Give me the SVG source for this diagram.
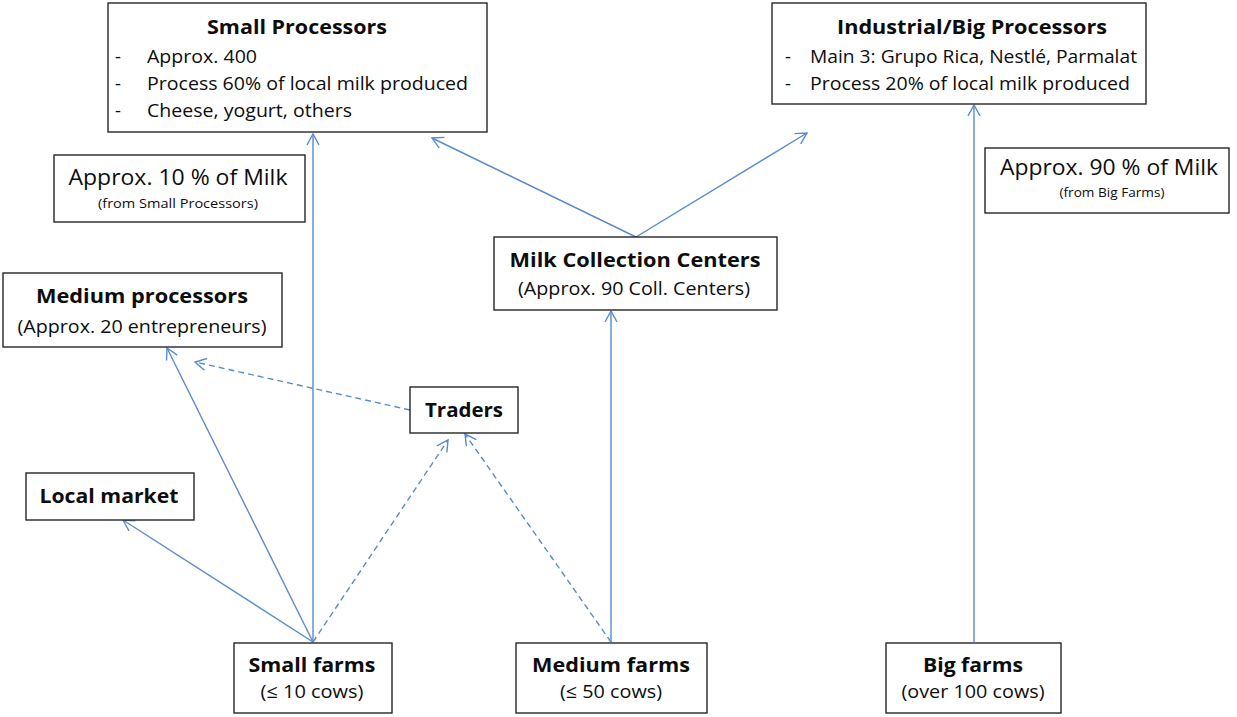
<svg xmlns="http://www.w3.org/2000/svg" width="1237" height="717" viewBox="0 0 1237 717">
<style>
.box{fill:#fff;stroke:#262626;stroke-width:1.4}
.t{font-family:"Open Sans","Liberation Sans",sans-serif;fill:#0d0d0d}
.b{font-weight:bold;font-size:19px}
.n{font-size:18.5px}
.big{font-size:22px}
.sm{font-size:12.5px}
.c{stroke:#5B8BCB;stroke-width:1.4;fill:none}
.d{stroke-dasharray:6 4}
</style>
<defs>
<marker id="ah" markerUnits="userSpaceOnUse" markerWidth="16" markerHeight="16" viewBox="-12 -8 14 16" refX="0" refY="0" orient="auto">
<path d="M-11,-6 L0,0 L-11,6" fill="none" stroke="#5B8BCB" stroke-width="1.4"/>
</marker>
</defs>
<rect width="1237" height="717" fill="#fff"/>
<g id="connectors">
<line class="c" x1="313" y1="642" x2="123" y2="520" marker-end="url(#ah)"/>
<line class="c" x1="313" y1="642" x2="167" y2="348" marker-end="url(#ah)"/>
<line class="c" x1="313" y1="642" x2="313" y2="134" marker-end="url(#ah)"/>
<line class="c d" x1="313" y1="642" x2="448" y2="440" marker-end="url(#ah)"/>
<line class="c d" x1="611" y1="642" x2="465" y2="434" marker-end="url(#ah)"/>
<line class="c" x1="611" y1="642" x2="611" y2="311" marker-end="url(#ah)"/>
<line class="c d" x1="410" y1="410" x2="195" y2="362" marker-end="url(#ah)"/>
<line class="c" x1="636" y1="237" x2="432" y2="138" marker-end="url(#ah)"/>
<line class="c" x1="636" y1="237" x2="807" y2="133" marker-end="url(#ah)"/>
<line class="c" x1="974" y1="642" x2="974" y2="105" marker-end="url(#ah)"/>
</g>
<g id="small-processors">
<rect class="box" x="108" y="3" width="379" height="129"/>
<text class="t b" x="297" y="34" text-anchor="middle" textLength="180" lengthAdjust="spacingAndGlyphs">Small Processors</text>
<text class="t n" x="115" y="63">-</text>
<text class="t n" x="147" y="63" textLength="110" lengthAdjust="spacingAndGlyphs">Approx. 400</text>
<text class="t n" x="115" y="90">-</text>
<text class="t n" x="147" y="90" textLength="321" lengthAdjust="spacingAndGlyphs">Process 60% of local milk produced</text>
<text class="t n" x="115" y="117">-</text>
<text class="t n" x="147" y="117" textLength="205" lengthAdjust="spacingAndGlyphs">Cheese, yogurt, others</text>
</g>
<g id="industrial-processors">
<rect class="box" x="772" y="3" width="374" height="101"/>
<text class="t b" x="972" y="34" text-anchor="middle" textLength="270" lengthAdjust="spacingAndGlyphs">Industrial/Big Processors</text>
<text class="t n" x="785" y="63">-</text>
<text class="t n" x="810" y="63" textLength="327" lengthAdjust="spacingAndGlyphs">Main 3: Grupo Rica, Nestlé, Parmalat</text>
<text class="t n" x="785" y="90">-</text>
<text class="t n" x="810" y="90" textLength="320" lengthAdjust="spacingAndGlyphs">Process 20% of local milk produced</text>
</g>
<g id="note-10">
<rect class="box" x="54" y="155" width="251" height="67"/>
<text class="t big" x="178" y="185" text-anchor="middle" textLength="219" lengthAdjust="spacingAndGlyphs">Approx. 10 % of Milk</text>
<text class="t sm" x="178" y="208" text-anchor="middle" textLength="160" lengthAdjust="spacingAndGlyphs">(from Small Processors)</text>
</g>
<g id="note-90">
<rect class="box" x="985" y="148" width="244" height="65"/>
<text class="t big" x="1109" y="175" text-anchor="middle" textLength="218" lengthAdjust="spacingAndGlyphs">Approx. 90 % of Milk</text>
<text class="t sm" x="1112" y="197" text-anchor="middle" textLength="105" lengthAdjust="spacingAndGlyphs">(from Big Farms)</text>
</g>
<g id="medium-processors">
<rect class="box" x="3" y="273" width="279" height="74"/>
<text class="t b" x="142" y="303" text-anchor="middle" textLength="212" lengthAdjust="spacingAndGlyphs">Medium processors</text>
<text class="t n" x="142" y="333" text-anchor="middle" textLength="249" lengthAdjust="spacingAndGlyphs">(Approx. 20 entrepreneurs)</text>
</g>
<g id="milk-collection-centers">
<rect class="box" x="494" y="237" width="283" height="73"/>
<text class="t b" x="635" y="267" text-anchor="middle" textLength="251" lengthAdjust="spacingAndGlyphs">Milk Collection Centers</text>
<text class="t n" x="634" y="295" text-anchor="middle" textLength="232" lengthAdjust="spacingAndGlyphs">(Approx. 90 Coll. Centers)</text>
</g>
<g id="traders">
<rect class="box" x="410" y="387" width="108" height="46"/>
<text class="t b" x="464" y="417" text-anchor="middle" textLength="78" lengthAdjust="spacingAndGlyphs">Traders</text>
</g>
<g id="local-market">
<rect class="box" x="26" y="473" width="168" height="47"/>
<text class="t b" x="109" y="503" text-anchor="middle" textLength="139" lengthAdjust="spacingAndGlyphs">Local market</text>
</g>
<g id="small-farms">
<rect class="box" x="234" y="643" width="158" height="70"/>
<text class="t b" x="312" y="672" text-anchor="middle" textLength="127" lengthAdjust="spacingAndGlyphs">Small farms</text>
<text class="t n" x="312" y="698" text-anchor="middle" textLength="103" lengthAdjust="spacingAndGlyphs">(≤ 10 cows)</text>
</g>
<g id="medium-farms">
<rect class="box" x="516" y="643" width="191" height="70"/>
<text class="t b" x="611" y="672" text-anchor="middle" textLength="158" lengthAdjust="spacingAndGlyphs">Medium farms</text>
<text class="t n" x="611" y="698" text-anchor="middle" textLength="102" lengthAdjust="spacingAndGlyphs">(≤ 50 cows)</text>
</g>
<g id="big-farms">
<rect class="box" x="886" y="643" width="175" height="70"/>
<text class="t b" x="973" y="672" text-anchor="middle" textLength="100" lengthAdjust="spacingAndGlyphs">Big farms</text>
<text class="t n" x="973" y="698" text-anchor="middle" textLength="143" lengthAdjust="spacingAndGlyphs">(over 100 cows)</text>
</g>
</svg>
